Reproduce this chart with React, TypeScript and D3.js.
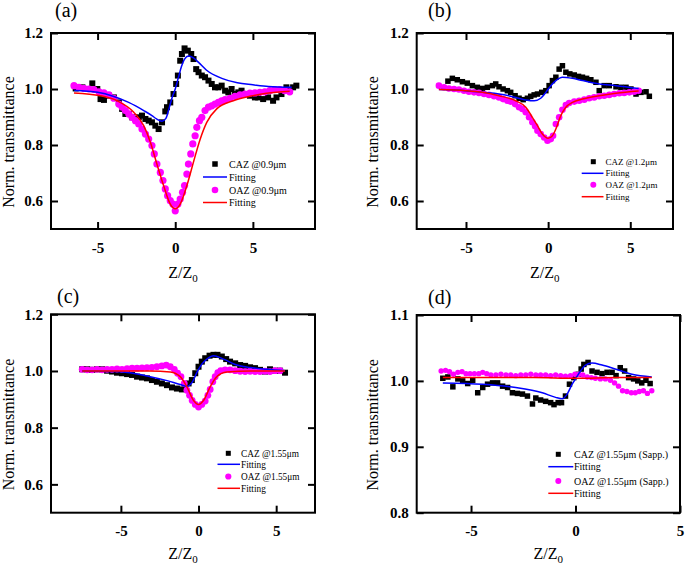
import React, { useEffect, useRef } from "react";
import * as d3 from "d3";

// ---------- data ----------
// panel (a) @0.9um
const cazA_x = [-6.41, -5.98, -5.66, -5.34, -5.02, -4.81, -4.59, -4.27, -3.95, -3.63, -3.42, -3.21, -2.99, -2.78, -2.56, -2.35, -2.14, -1.92, -1.71, -1.5, -1.28, -1.07, -0.85, -0.64, -0.53, -0.32, -0.11, 0.06, 0.17, 0.32, 0.43, 0.6, 0.81, 1.03, 1.18, 1.35, 1.5, 1.71, 1.92, 2.14, 2.35, 2.56, 2.78, 2.99, 3.21, 3.42, 3.63, 3.85, 4.06, 4.27, 4.49, 4.81, 5.13, 5.34, 5.66, 5.98, 6.3, 6.52, 6.84, 7.16, 7.37, 7.59, 7.8];
const cazA_y = [1.002, 1.006, 1.0, 1.02, 1.0, 0.964, 0.961, 0.976, 0.97, 0.952, 0.929, 0.911, 0.911, 0.899, 0.893, 0.899, 0.905, 0.893, 0.887, 0.881, 0.869, 0.857, 0.881, 0.92, 0.935, 0.952, 0.982, 1.018, 1.048, 1.101, 1.125, 1.145, 1.137, 1.125, 1.107, 1.071, 1.06, 1.048, 1.042, 1.03, 1.018, 1.006, 1.006, 1.012, 0.994, 0.988, 1.0, 0.982, 0.988, 0.994, 0.982, 0.976, 0.97, 0.97, 0.964, 0.97, 0.958, 0.97, 0.982, 1.006, 0.994, 1.006, 1.012];
const oazA_x = [-6.52, -6.2, -5.88, -5.56, -5.24, -4.91, -4.59, -4.27, -3.95, -3.63, -3.42, -3.21, -2.99, -2.78, -2.56, -2.35, -2.14, -1.92, -1.71, -1.5, -1.35, -1.18, -0.96, -0.79, -0.64, -0.49, -0.32, -0.15, 0.0, 0.17, 0.32, 0.47, 0.6, 0.75, 0.85, 1.0, 1.13, 1.28, 1.39, 1.56, 1.71, 1.92, 2.14, 2.35, 2.56, 2.78, 2.99, 3.21, 3.53, 3.85, 4.17, 4.49, 4.81, 5.13, 5.45, 5.77, 6.09, 6.41, 6.73, 7.05, 7.37];
const oazA_y = [1.012, 1.006, 1.002, 1.0, 0.998, 0.99, 0.986, 0.979, 0.967, 0.946, 0.935, 0.923, 0.911, 0.899, 0.887, 0.875, 0.857, 0.839, 0.821, 0.798, 0.768, 0.732, 0.702, 0.673, 0.643, 0.619, 0.601, 0.589, 0.565, 0.589, 0.607, 0.631, 0.655, 0.696, 0.732, 0.768, 0.804, 0.833, 0.863, 0.887, 0.899, 0.923, 0.935, 0.94, 0.946, 0.952, 0.958, 0.962, 0.967, 0.974, 0.979, 0.982, 0.985, 0.986, 0.988, 0.99, 0.994, 0.998, 0.998, 0.994, 0.99];
const fitCazA_x = [-6.5, -5, -4, -3, -2, -1.5, -1.2, -0.85, -0.6, -0.4, -0.2, 0, 0.2, 0.4, 0.6, 0.85, 1.2, 1.5, 2, 3, 4, 5, 6, 7.5];
const fitCazA_y = [0.995, 0.988, 0.974, 0.952, 0.922, 0.905, 0.893, 0.885, 0.895, 0.93, 0.97, 1.0, 1.04, 1.08, 1.107, 1.118, 1.11, 1.095, 1.068, 1.038, 1.022, 1.015, 1.009, 1.006];
const fitOazA_x = [-6.52, -4.81, -3.74, -2.67, -2.03, -1.6, -1.18, -0.75, -0.32, 0, 0.32, 0.75, 1.18, 1.6, 2.03, 2.67, 3.74, 4.81, 5.88, 7.37];
const fitOazA_y = [0.986, 0.976, 0.958, 0.917, 0.869, 0.81, 0.732, 0.655, 0.589, 0.572, 0.589, 0.655, 0.74, 0.82, 0.881, 0.929, 0.958, 0.974, 0.985, 0.992];

// panel (b) @1.2um
const cazB_x = [-6.1, -5.83, -5.53, -5.22, -4.92, -4.61, -4.31, -4.0, -3.7, -3.39, -3.19, -2.99, -2.74, -2.48, -2.28, -2.01, -1.77, -1.52, -1.26, -1.06, -0.85, -0.65, -0.39, -0.14, 0.06, 0.26, 0.47, 0.67, 0.87, 1.08, 1.32, 1.59, 1.85, 2.09, 2.34, 2.6, 2.91, 3.11, 3.41, 3.72, 4.13, 4.43, 4.74, 5.04, 5.35, 5.65, 5.96, 6.16];
const cazB_y = [1.028, 1.038, 1.033, 1.026, 1.021, 1.012, 1.006, 1.002, 1.006, 1.012, 1.018, 1.008, 1.0, 0.994, 0.988, 0.976, 0.967, 0.962, 0.967, 0.974, 0.979, 0.982, 0.988, 0.994, 1.012, 1.03, 1.042, 1.071, 1.083, 1.06, 1.054, 1.05, 1.045, 1.042, 1.038, 1.033, 1.024, 0.994, 1.012, 1.012, 1.008, 1.006, 1.006, 1.0, 0.982, 0.988, 0.99, 0.974];
const oazB_x = [-6.65, -6.34, -6.04, -5.73, -5.43, -5.12, -4.82, -4.51, -4.21, -3.9, -3.6, -3.29, -2.99, -2.74, -2.48, -2.28, -2.01, -1.77, -1.57, -1.36, -1.16, -0.96, -0.79, -0.65, -0.45, -0.24, -0.04, 0.16, 0.3, 0.47, 0.67, 0.87, 1.08, 1.28, 1.59, 1.89, 2.2, 2.5, 2.8, 3.11, 3.41, 3.72, 4.02, 4.33, 4.63, 4.94, 5.24, 5.51];
const oazB_y = [1.012, 1.006, 1.002, 1.0, 0.998, 0.994, 0.99, 0.988, 0.986, 0.982, 0.979, 0.974, 0.97, 0.964, 0.958, 0.955, 0.946, 0.935, 0.929, 0.917, 0.899, 0.881, 0.867, 0.851, 0.839, 0.827, 0.815, 0.821, 0.833, 0.875, 0.899, 0.926, 0.943, 0.95, 0.955, 0.958, 0.962, 0.967, 0.97, 0.974, 0.976, 0.979, 0.982, 0.985, 0.986, 0.988, 0.99, 0.994];
const fitCazB_x = [-6.65, -5.02, -4.0, -2.99, -1.97, -1.36, -0.85, -0.45, -0.14, 0.16, 0.47, 0.87, 1.48, 2.09, 3.11, 4.13, 5.51];
const fitCazB_y = [0.998, 0.994, 0.988, 0.982, 0.97, 0.961, 0.958, 0.967, 0.988, 1.012, 1.03, 1.042, 1.038, 1.03, 1.018, 1.012, 1.002];
const fitOazB_x = [-6.65, -5.02, -4.0, -2.99, -1.97, -1.36, -0.96, -0.65, -0.35, 0, 0.26, 0.47, 0.77, 1.08, 1.48, 2.09, 3.11, 4.13, 5.51];
const fitOazB_y = [0.998, 0.994, 0.988, 0.976, 0.958, 0.935, 0.899, 0.869, 0.839, 0.824, 0.833, 0.857, 0.905, 0.935, 0.952, 0.964, 0.976, 0.985, 0.993];

// panel (c) @1.55um
const cazC_x = [-7.49, -7.17, -6.85, -6.53, -6.21, -5.89, -5.57, -5.25, -4.93, -4.6, -4.28, -3.96, -3.64, -3.32, -3.0, -2.68, -2.36, -2.03, -1.71, -1.39, -1.07, -0.86, -0.64, -0.43, -0.21, 0.0, 0.21, 0.43, 0.71, 0.96, 1.22, 1.5, 1.78, 2.03, 2.36, 2.68, 3.0, 3.32, 3.64, 3.96, 4.28, 4.6, 4.93, 5.25, 5.57];
const cazC_y = [1.006, 1.006, 1.004, 1.006, 1.006, 1.001, 0.998, 0.994, 0.992, 0.989, 0.986, 0.98, 0.977, 0.974, 0.968, 0.962, 0.956, 0.95, 0.942, 0.938, 0.935, 0.942, 0.956, 0.968, 0.992, 1.015, 1.033, 1.045, 1.054, 1.057, 1.057, 1.051, 1.042, 1.033, 1.027, 1.021, 1.018, 1.013, 1.01, 1.004, 0.998, 1.006, 1.001, 1.001, 0.994];
const oazC_x = [-7.49, -7.17, -6.85, -6.53, -6.21, -5.89, -5.57, -5.25, -4.93, -4.6, -4.28, -3.96, -3.64, -3.32, -3.0, -2.68, -2.36, -2.08, -1.82, -1.56, -1.35, -1.13, -0.92, -0.75, -0.58, -0.41, -0.21, 0.0, 0.21, 0.43, 0.6, 0.75, 0.92, 1.07, 1.24, 1.43, 1.71, 2.03, 2.36, 2.68, 3.0, 3.32, 3.64, 3.96, 4.28, 4.6, 4.93, 5.25];
const oazC_y = [1.006, 1.004, 1.004, 1.006, 1.004, 1.006, 1.006, 1.007, 1.006, 1.008, 1.01, 1.01, 1.011, 1.012, 1.013, 1.015, 1.018, 1.021, 1.015, 1.006, 0.992, 0.98, 0.956, 0.932, 0.914, 0.896, 0.882, 0.873, 0.882, 0.894, 0.914, 0.935, 0.962, 0.98, 0.994, 1.001, 1.004, 1.004, 1.001, 0.999, 0.998, 0.999, 0.998, 0.998, 0.999, 0.998, 1.001, 1.001];
const fitCazC_x = [-7.49, -5.25, -3.11, -2.03, -1.18, -0.75, -0.43, -0.11, 0.21, 0.64, 0.96, 1.61, 2.46, 3.32, 4.39, 5.57];
const fitCazC_y = [1.0, 0.998, 0.98, 0.966, 0.952, 0.946, 0.958, 0.994, 1.024, 1.046, 1.054, 1.042, 1.021, 1.012, 1.006, 1.001];
const fitOazC_x = [-7.49, -3.11, -1.82, -1.18, -0.75, -0.32, 0, 0.32, 0.75, 1.18, 1.82, 3.32, 5.57];
const fitOazC_y = [1.0, 1.0, 0.996, 0.98, 0.944, 0.896, 0.882, 0.896, 0.944, 0.98, 0.996, 1.0, 1.0];

// panel (d) @1.55um (Sapp.)
const cazD_x = [-6.35, -6.11, -5.87, -5.63, -5.4, -5.16, -4.92, -4.68, -4.44, -4.21, -3.97, -3.73, -3.49, -3.25, -3.02, -2.78, -2.54, -2.3, -2.06, -1.9, -1.67, -1.43, -1.19, -1.03, -0.83, -0.67, -0.48, -0.29, -0.08, 0.13, 0.27, 0.4, 0.6, 0.79, 1.03, 1.27, 1.51, 1.75, 1.94, 2.14, 2.35, 2.54, 2.78, 2.98, 3.17, 3.37, 3.57];
const cazD_y = [1.004, 1.006, 0.991, 1.003, 1.0, 0.996, 1.001, 0.982, 0.99, 0.995, 0.997, 0.997, 0.992, 0.99, 0.982, 0.981, 0.98, 0.977, 0.965, 0.974, 0.971, 0.969, 0.967, 0.964, 0.967, 0.967, 0.977, 0.995, 1.005, 1.01, 1.018, 1.025, 1.028, 1.015, 1.013, 1.011, 1.013, 1.013, 1.008, 1.02, 1.015, 1.005, 1.003, 1.0, 0.997, 1.001, 0.996];
const oazD_x = [-6.43, -6.22, -6.03, -5.84, -5.63, -5.43, -5.24, -5.05, -4.84, -4.63, -4.44, -4.25, -4.05, -3.81, -3.57, -3.33, -3.1, -2.86, -2.62, -2.38, -2.14, -1.9, -1.67, -1.43, -1.19, -0.95, -0.71, -0.48, -0.24, -0.03, 0.16, 0.35, 0.56, 0.76, 0.95, 1.19, 1.43, 1.67, 1.87, 2.06, 2.25, 2.46, 2.67, 2.86, 3.05, 3.25, 3.44, 3.65];
const oazD_y = [1.015, 1.016, 1.014, 1.01, 1.013, 1.014, 1.011, 1.011, 1.011, 1.011, 1.013, 1.011, 1.009, 1.009, 1.01, 1.009, 1.009, 1.008, 1.009, 1.009, 1.01, 1.009, 1.009, 1.009, 1.008, 1.009, 1.008, 1.007, 1.008, 1.01, 1.01, 1.009, 1.006, 1.005, 1.004, 1.003, 1.003, 1.001, 0.997, 0.992, 0.985, 0.984, 0.982, 0.982, 0.984, 0.985, 0.981, 0.985];
const fitCazD_x = [-6.35, -4.44, -2.86, -1.59, -0.95, -0.63, -0.4, -0.16, 0, 0.24, 0.48, 0.79, 1.27, 1.9, 2.7, 3.65];
const fitCazD_y = [0.997, 0.995, 0.99, 0.982, 0.975, 0.973, 0.98, 0.995, 1.003, 1.015, 1.024, 1.027, 1.024, 1.018, 1.01, 1.006];
const fitOazD_x = [-6.35, -4, -2, 0, 2, 3.65];
const fitOazD_y = [1.005, 1.005, 1.005, 1.004, 1.005, 1.005];

// ticks
const xTicks = [-5, 0, 5];
const xTickLabels = ["-5", "0", "5"];
const yTicksABC = [0.6, 0.8, 1.0, 1.2];
const yTickLabelsABC = ["0.6", "0.8", "1.0", "1.2"];
const yTicksD = [0.8, 0.9, 1.0, 1.1];
const yTickLabelsD = ["0.8", "0.9", "1.0", "1.1"];

const zip = (xs: number[], ys: number[]) => xs.map((x, i) => [x, ys[i]] as [number, number]);

const SERIF = "'Liberation Serif', 'Times New Roman', serif";

const panels = [
  {
    label: "(a)", labelX: 55, labelY: 17,
    box: { left: 51, right: 315, top: 33, bottom: 229 },
    xDomain: [-8, 9], yDomain: [0.5, 1.2],
    yTicks: yTicksABC, yTickLabels: yTickLabelsABC,
    caz: zip(cazA_x, cazA_y), oaz: zip(oazA_x, oazA_y),
    fitCaz: zip(fitCazA_x, fitCazA_y), fitOaz: zip(fitOazA_x, fitOazA_y),
    sq: 6, r: 3.6,
    legend: { rows: [164, 177, 190, 202.5], mx: 215, l0: 203, l1: 227, tx: 229, fs: 10, sq: 5.5, r: 3.3 },
    cazText: "CAZ @0.9μm", oazText: "OAZ @0.9μm",
    titleY: 278, yTitleX: 14,
  },
  {
    label: "(b)", labelX: 428, labelY: 17,
    box: { left: 416.7, right: 673, top: 33, bottom: 229 },
    xDomain: [-8, 7.6], yDomain: [0.5, 1.2],
    yTicks: yTicksABC, yTickLabels: yTickLabelsABC,
    caz: zip(cazB_x, cazB_y), oaz: zip(oazB_x, oazB_y),
    fitCaz: zip(fitCazB_x, fitCazB_y), fitOaz: zip(fitOazB_x, fitOazB_y),
    sq: 5.5, r: 3.3,
    legend: { rows: [161.7, 173.3, 184.8, 196.7], mx: 593.3, l0: 581.7, l1: 603.5, tx: 605.5, fs: 9, sq: 5, r: 3 },
    cazText: "CAZ @1.2μm", oazText: "OAZ @1.2μm",
    titleY: 278, yTitleX: 378,
  },
  {
    label: "(c)", labelX: 57, labelY: 303,
    box: { left: 51, right: 315, top: 314.3, bottom: 512.7 },
    xDomain: [-9.5, 7.5], yDomain: [0.5, 1.2],
    yTicks: yTicksABC, yTickLabels: yTickLabelsABC,
    caz: zip(cazC_x, cazC_y), oaz: zip(oazC_x, oazC_y),
    fitCaz: zip(fitCazC_x, fitCazC_y), fitOaz: zip(fitOazC_x, fitOazC_y),
    sq: 6, r: 3.4,
    legend: { rows: [453.3, 464.3, 476.5, 488.3], mx: 228.3, l0: 217.5, l1: 240, tx: 241, fs: 9.3, sq: 5, r: 3.1 },
    cazText: "CAZ @1.55μm", oazText: "OAZ @1.55μm",
    titleY: 559, yTitleX: 14,
  },
  {
    label: "(d)", labelX: 428, labelY: 304,
    box: { left: 416.7, right: 680, top: 315, bottom: 512.7 },
    xDomain: [-7.6, 5], yDomain: [0.8, 1.1],
    yTicks: yTicksD, yTickLabels: yTickLabelsD,
    caz: zip(cazD_x, cazD_y), oaz: zip(oazD_x, oazD_y),
    fitCaz: zip(fitCazD_x, fitCazD_y), fitOaz: zip(fitOazD_x, fitOazD_y),
    sq: 5.5, r: 2.7,
    legend: { rows: [454.3, 466.7, 481, 493.3], mx: 558.3, l0: 548.3, l1: 573.3, tx: 574, fs: 10, sq: 5, r: 3 },
    cazText: "CAZ @1.55μm (Sapp.)", oazText: "OAZ @1.55μm (Sapp.)",
    titleY: 559, yTitleX: 378,
  },
];

const App = () => {
  const svgRef = useRef<SVGSVGElement | null>(null);

  useEffect(() => {
    const root = d3.select(svgRef.current);
    root.selectAll("*").remove();

    panels.forEach((p) => {
      const { left, right, top, bottom } = p.box;
      const x = d3.scaleLinear().domain(p.xDomain).range([left, right]);
      const y = d3.scaleLinear().domain(p.yDomain).range([bottom, top]);
      const g = root.append("g");

      // --- axes (inward ticks on all four sides) ---
      const styleAxis = (ax: any) => {
        ax.select(".domain").remove();
        ax.selectAll(".tick line").attr("stroke", "#000").attr("stroke-width", 2);
        ax.selectAll(".tick text")
          .attr("fill", "#000")
          .style("font-family", SERIF)
          .style("font-size", "15px")
          .style("font-weight", "bold");
      };

      const fmtY = (v: any) => p.yTickLabels[p.yTicks.indexOf(v)];
      const fmtX = (v: any) => xTickLabels[xTicks.indexOf(v)];

      g.append("g")
        .attr("transform", `translate(${left},0)`)
        .call(d3.axisLeft(y).tickValues(p.yTicks).tickSizeInner(-7).tickSizeOuter(0).tickPadding(8).tickFormat(fmtY))
        .call(styleAxis);
      g.append("g")
        .attr("transform", `translate(${right},0)`)
        .call(d3.axisRight(y).tickValues(p.yTicks).tickSizeInner(-7).tickSizeOuter(0).tickFormat(() => ""))
        .call(styleAxis);
      g.append("g")
        .attr("transform", `translate(0,${bottom})`)
        .call(d3.axisBottom(x).tickValues(xTicks).tickSizeInner(-7).tickSizeOuter(0).tickPadding(13).tickFormat(fmtX))
        .call(styleAxis);
      g.append("g")
        .attr("transform", `translate(0,${top})`)
        .call(d3.axisTop(x).tickValues(xTicks).tickSizeInner(-7).tickSizeOuter(0).tickFormat(() => ""))
        .call(styleAxis);

      // frame
      g.append("rect")
        .attr("x", left)
        .attr("y", top)
        .attr("width", right - left)
        .attr("height", bottom - top)
        .attr("fill", "none")
        .attr("stroke", "#000")
        .attr("stroke-width", 2);

      // --- data ---
      g.append("g")
        .selectAll("rect")
        .data(p.caz)
        .join("rect")
        .attr("x", (d) => x(d[0]) - p.sq / 2)
        .attr("y", (d) => y(d[1]) - p.sq / 2)
        .attr("width", p.sq)
        .attr("height", p.sq)
        .attr("fill", "#000");

      g.append("g")
        .selectAll("circle")
        .data(p.oaz)
        .join("circle")
        .attr("cx", (d) => x(d[0]))
        .attr("cy", (d) => y(d[1]))
        .attr("r", p.r)
        .attr("fill", "#ff00ff");

      const line = d3
        .line<[number, number]>()
        .x((d) => x(d[0]))
        .y((d) => y(d[1]))
        .curve(d3.curveMonotoneX);

      g.append("path").attr("d", line(p.fitCaz)).attr("fill", "none").attr("stroke", "#0000ff").attr("stroke-width", 1.5);
      g.append("path").attr("d", line(p.fitOaz)).attr("fill", "none").attr("stroke", "#ff0000").attr("stroke-width", 1.5);

      // --- legend ---
      const L = p.legend;
      const legendText = (ty: number, txt: string) =>
        g.append("text")
          .attr("x", L.tx)
          .attr("y", ty)
          .attr("dy", "0.35em")
          .style("font-family", SERIF)
          .style("font-size", `${L.fs}px`)
          .attr("fill", "#000")
          .text(txt);

      g.append("rect")
        .attr("x", L.mx - L.sq / 2)
        .attr("y", L.rows[0] - L.sq / 2)
        .attr("width", L.sq)
        .attr("height", L.sq)
        .attr("fill", "#000");
      legendText(L.rows[0], p.cazText);
      g.append("line")
        .attr("x1", L.l0).attr("x2", L.l1)
        .attr("y1", L.rows[1]).attr("y2", L.rows[1])
        .attr("stroke", "#0000ff").attr("stroke-width", 1.5);
      legendText(L.rows[1], "Fitting");
      g.append("circle").attr("cx", L.mx).attr("cy", L.rows[2]).attr("r", L.r).attr("fill", "#ff00ff");
      legendText(L.rows[2], p.oazText);
      g.append("line")
        .attr("x1", L.l0).attr("x2", L.l1)
        .attr("y1", L.rows[3]).attr("y2", L.rows[3])
        .attr("stroke", "#ff0000").attr("stroke-width", 1.5);
      legendText(L.rows[3], "Fitting");

      // --- titles ---
      const xt = g.append("text")
        .attr("x", (left + right) / 2)
        .attr("y", p.titleY)
        .attr("text-anchor", "middle")
        .style("font-family", SERIF)
        .style("font-size", "16px")
        .attr("fill", "#000");
      xt.append("tspan").text("Z/Z");
      xt.append("tspan").attr("dy", 3.5).style("font-size", "11px").text("0");

      g.append("text")
        .attr("transform", `translate(${p.yTitleX},${(top + bottom) / 2 + 11}) rotate(-90)`)
        .attr("text-anchor", "middle")
        .style("font-family", SERIF)
        .style("font-size", "16px")
        .attr("fill", "#000")
        .text("Norm. transmittance");

      g.append("text")
        .attr("x", p.labelX)
        .attr("y", p.labelY)
        .style("font-family", SERIF)
        .style("font-size", "20px")
        .attr("fill", "#000")
        .text(p.label);
    });
  }, []);

  return (
    <svg
      ref={svgRef}
      width={685}
      height={566}
      style={{ position: "absolute", left: 0, top: 0, background: "#fff" }}
    ></svg>
  );
};

export default App;
